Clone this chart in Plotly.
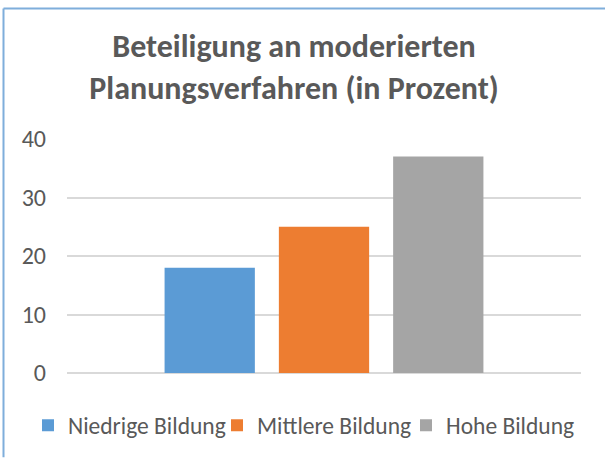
import plotly.graph_objects as go

categories = [""]
series_names = ["Niedrige Bildung", "Mittlere Bildung", "Hohe Bildung"]
series_values = [18, 25, 37]
colors = ["#5B9BD5", "#ED7D31", "#A5A5A5"]
y_ticks = [0, 10, 20, 30, 40]

FONT = "Calibri, Carlito, 'Open Sans', sans-serif"
TXT = "#595959"

fig = go.Figure()
for name, val, col in zip(series_names, series_values, colors):
    fig.add_trace(go.Bar(x=categories, y=[val], name=name, marker_color=col,
                         marker_line_width=0, hoverinfo="name+y"))

W, H = 605, 460
L, R, T, B = 67, 24, 139, 85
pw, ph = W - L - R, H - T - B

def px_x(x):
    return (x - L) / pw

def px_y(y):
    return (H - B - y) / ph

fig.update_layout(
    width=W, height=H,
    margin=dict(l=L, r=R, t=T, b=B),
    paper_bgcolor="white", plot_bgcolor="white",
    barmode="group", bargap=0.333, bargroupgap=0.21,
    font=dict(family=FONT, color=TXT),
    title=dict(text="<b>Beteiligung an moderierten<br>Planungsverfahren (in Prozent)</b>",
               x=294 / W, xanchor="center", xref="container",
               y=1 - 57 / H, yanchor="middle", yref="container",
               font=dict(size=32, color=TXT, family=FONT)),
    showlegend=True,
    legend=dict(orientation="h", xref="paper", yref="paper",
                x=px_x(28), xanchor="left", y=px_y(428), yanchor="middle",
                entrywidth=144, entrywidthmode="pixels",
                font=dict(size=23.5, color=TXT, family=FONT),
                itemclick=False, itemdoubleclick=False),
    xaxis=dict(showticklabels=False, showgrid=False, showline=False, zeroline=False,
               ticks=""),
    yaxis=dict(range=[0, 40], tickvals=y_ticks, showgrid=True, gridcolor="#D9D9D9",
               gridwidth=1.5, zeroline=True, zerolinecolor="#D9D9D9", zerolinewidth=1.5,
               showline=False, ticks="", ticklabelstandoff=20,
               tickfont=dict(size=24, color=TXT, family=FONT)),
    shapes=[
        dict(type="line", xref="paper", yref="paper",
             x0=px_x(3.5), x1=px_x(W), y0=px_y(7.5), y1=px_y(7.5),
             line=dict(color="#7FAEDB", width=2)),
        dict(type="line", xref="paper", yref="paper",
             x0=px_x(3.5), x1=px_x(3.5), y0=px_y(7.5), y1=px_y(H),
             line=dict(color="#7FAEDB", width=2)),
    ],
)

fig.write_html("out.html", config={"displayModeBar": False},
               post_script="document.body.style.margin='0';document.body.style.padding='0';"
                           "document.body.style.overflow='hidden';")
